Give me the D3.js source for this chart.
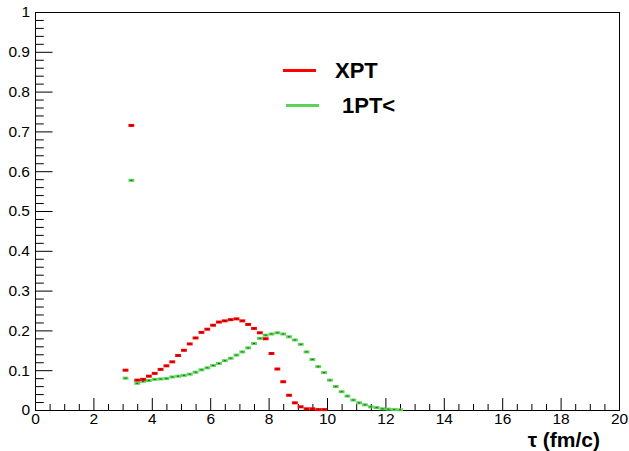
<!DOCTYPE html>
<html>
<head>
<meta charset="utf-8">
<script src="https://cdn.jsdelivr.net/npm/d3@7"></script>
<style>
  html, body { margin: 0; padding: 0; background: #fff; }
  svg { display: block; }
  text { font-family: "Liberation Sans", Arial, Helvetica, sans-serif; }
</style>
</head>
<body>
<svg id="chart" width="629" height="451"></svg>
<script>
// Bin centres (fm/c), bin width 0.2
const tauXPT = [3.1, 3.3, 3.5, 3.7, 3.9, 4.1, 4.3, 4.5, 4.7, 4.9,
                5.1, 5.3, 5.5, 5.7, 5.9, 6.1, 6.3, 6.5, 6.7, 6.9,
                7.1, 7.3, 7.5, 7.7, 7.9, 8.1, 8.3, 8.5, 8.7, 8.9,
                9.1, 9.3, 9.5, 9.7, 9.9];
const valXPT = [0.100, 0.715, 0.075, 0.077, 0.085, 0.092, 0.102, 0.111, 0.121, 0.137,
                0.150, 0.166, 0.181, 0.195, 0.203, 0.213, 0.221, 0.224, 0.227, 0.229,
                0.224, 0.215, 0.205, 0.194, 0.179, 0.142, 0.103, 0.071, 0.037, 0.018,
                0.008, 0.003, 0.003, 0.001, 0.001];

const tau1PT = [3.1, 3.3, 3.5, 3.7, 3.9, 4.1, 4.3, 4.5, 4.7, 4.9,
                5.1, 5.3, 5.5, 5.7, 5.9, 6.1, 6.3, 6.5, 6.7, 6.9,
                7.1, 7.3, 7.5, 7.7, 7.9, 8.1, 8.3, 8.5, 8.7, 8.9,
                9.1, 9.3, 9.5, 9.7, 9.9, 10.1, 10.3, 10.5, 10.7, 10.9,
                11.1, 11.3, 11.5, 11.7, 11.9, 12.1, 12.3, 12.5];
const val1PT = [0.080, 0.577, 0.067, 0.072, 0.074, 0.077, 0.078, 0.079, 0.083, 0.085,
                0.087, 0.090, 0.095, 0.101, 0.106, 0.112, 0.117, 0.124, 0.130, 0.138,
                0.146, 0.156, 0.167, 0.180, 0.188, 0.191, 0.194, 0.191, 0.184, 0.176,
                0.165, 0.146, 0.127, 0.109, 0.094, 0.075, 0.059, 0.046, 0.035, 0.025,
                0.018, 0.013, 0.008, 0.006, 0.003, 0.002, 0.001, 0.0005];

const binWidth = 0.2;
const xTicks = [0, 2, 4, 6, 8, 10, 12, 14, 16, 18, 20];
const yTicks = [0, 0.1, 0.2, 0.3, 0.4, 0.5, 0.6, 0.7, 0.8, 0.9, 1];
const yTickLabels = ["0", "0.1", "0.2", "0.3", "0.4", "0.5", "0.6", "0.7", "0.8", "0.9", "1"];

const seriesNames = ["XPT", "1PT<"];
const seriesColors = ["#ff0000", "#59d454"];

const svg = d3.select("#chart");
const padL = 35, padR = 619, padT = 12, padB = 410;

const x = d3.scaleLinear().domain([0, 20]).range([padL, padR]);
const y = d3.scaleLinear().domain([0, 1]).range([padB, padT]);

const plotW = padR - padL, plotH = padB - padT;
const xMajor = 0.03 * plotH, yMajor = 0.03 * plotW;

// minor ticks
const xMinor = d3.range(0, 20.001, 0.5).filter(v => Math.abs(v / 2 - Math.round(v / 2)) > 1e-6);
const yMinor = d3.range(0, 1.0001, 0.02).filter(v => Math.abs(v * 10 - Math.round(v * 10)) > 1e-6);

svg.append("g")
  .attr("transform", `translate(0,${padB})`)
  .call(d3.axisBottom(x).tickValues(xMinor).tickFormat("").tickSize(-xMajor / 2))
  .call(g => g.select(".domain").remove());
svg.append("g")
  .attr("transform", `translate(${padL},0)`)
  .call(d3.axisLeft(y).tickValues(yMinor).tickFormat("").tickSize(-yMajor / 2))
  .call(g => g.select(".domain").remove());

const xAxis = svg.append("g")
  .attr("transform", `translate(0,${padB})`)
  .call(d3.axisBottom(x).tickValues(xTicks).tickFormat(d3.format("d")).tickSize(-xMajor).tickPadding(3))
  .call(g => g.select(".domain").remove());
xAxis.selectAll("text").attr("font-size", 15.5).attr("fill", "#000");

const yAxis = svg.append("g")
  .attr("transform", `translate(${padL},0)`)
  .call(d3.axisLeft(y).tickValues(yTicks).tickFormat((d, i) => yTickLabels[i]).tickSize(-yMajor).tickPadding(5))
  .call(g => g.select(".domain").remove());
yAxis.selectAll("text").attr("font-size", 15.5).attr("fill", "#000");

svg.selectAll(".tick line").attr("stroke", "#000").attr("stroke-width", 1);

// frame
svg.append("rect")
  .attr("x", padL + 0.5).attr("y", padT + 0.5)
  .attr("width", plotW).attr("height", plotH)
  .attr("fill", "none").attr("stroke", "#000").attr("stroke-width", 1);

// axis title
svg.append("text")
  .attr("x", padR - 19).attr("y", 446.5)
  .attr("text-anchor", "end")
  .attr("font-size", 21).attr("font-weight", "bold")
  .text("τ (fm/c)");

// histogram markers: horizontal bin-width bar with centre dot
function drawSeries(taus, vals, color) {
  const data = taus.map((t, i) => ({ t, v: vals[i] }));
  const g = svg.append("g");
  g.selectAll("rect.bar").data(data).join("rect")
    .attr("class", "bar")
    .attr("x", d => x(d.t - binWidth / 2))
    .attr("width", d => x(d.t + binWidth / 2) - x(d.t - binWidth / 2))
    .attr("y", d => y(d.v) - 1.5)
    .attr("height", 3)
    .attr("fill", color);
  g.selectAll("rect.dot").data(data).join("rect")
    .attr("class", "dot")
    .attr("x", d => x(d.t) - 1)
    .attr("width", 2)
    .attr("y", d => y(d.v) - 0.5)
    .attr("height", 1)
    .attr("fill", "#000").attr("opacity", 0.6);
}
drawSeries(tau1PT, val1PT, seriesColors[1]);
drawSeries(tauXPT, valXPT, seriesColors[0]);

// legend
const legendRows = [
  { y: 70.5, x0: 283, x1: 316, tx: 335 },
  { y: 105.5, x0: 286, x1: 319, tx: 342 }
];
legendRows.forEach((r, i) => {
  svg.append("line")
    .attr("x1", r.x0).attr("x2", r.x1).attr("y1", r.y).attr("y2", r.y)
    .attr("stroke", seriesColors[i]).attr("stroke-width", 3);
  svg.append("text")
    .attr("x", r.tx).attr("y", r.y + 7.5)
    .attr("font-size", 22).attr("font-weight", "bold")
    .text(seriesNames[i]);
});
</script>
</body>
</html>
